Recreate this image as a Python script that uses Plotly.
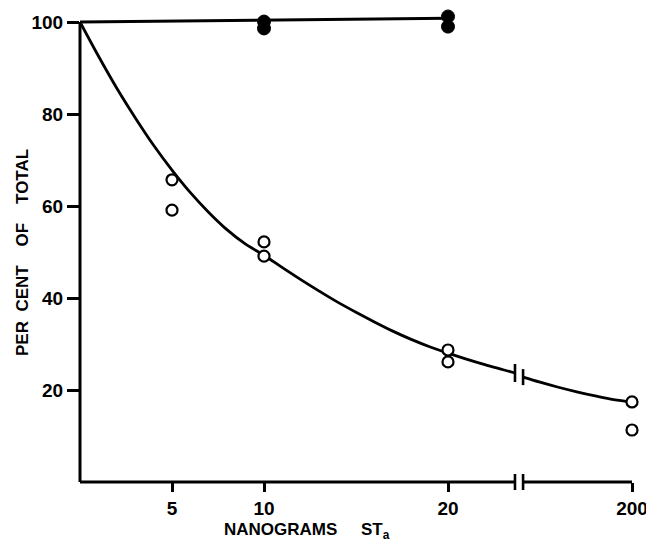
import plotly.graph_objects as go

# ---------------- data ----------------
doses_open = [5, 5, 10, 10, 20, 20, 200, 200]
pct_open = [65.7, 59.1, 52.2, 49.1, 28.7, 26.1, 17.4, 11.3]

doses_filled = [10, 10, 20, 20]
pct_filled = [100.1, 98.6, 101.2, 99.0]

control_line_dose = [0, 20]
control_line_pct = [100.0, 100.8]

# fitted curve, in axis units (200 ng sits at position 30 on the broken axis)
curve_x_pre = [0, 1, 2, 3, 4, 5, 6, 7, 8, 9, 10, 11, 12, 13, 14, 15, 16, 17,
               18, 19, 20, 21, 22, 23, 23.64]
curve_y_pre = [100, 92.6, 85.6, 79.2, 73.2, 67.8, 62.9, 58.6, 54.8, 51.7, 49.3,
               46.6, 44.0, 41.5, 39.1, 36.9, 34.8, 32.8, 31.0, 29.4, 28.0,
               26.7, 25.5, 24.4, 23.7]
curve_x_post = [24.08, 25, 26, 27, 28, 29, 30]
curve_y_post = [22.8, 21.7, 20.6, 19.6, 18.7, 17.9, 17.4]

x_tick_doses = [5, 10, 20, 200]
y_ticks = [20, 40, 60, 80, 100]

# broken-axis geometry
BREAK_LO, BREAK_HI = 23.64, 24.08
POS_200 = 30


def pos(d):
    return d if d <= 20 else POS_200


# page has an 8px body margin: keep the figure inside the 654x546 window
OFF = 8
W, H = 654 - OFF, 546 - OFF
ML, MR, MT, MB = 80 - OFF, 4, 8 - OFF, 64
PX_PER_X = 18.4
PX_PER_Y = 4.6
plot_w = W - ML - MR
plot_h = H - MT - MB

fig = go.Figure()

ink = "black"
font_family = "Liberation Sans, Arial, Helvetica, sans-serif"

# control (filled) line
fig.add_trace(go.Scatter(
    x=control_line_dose, y=control_line_pct, mode="lines",
    line=dict(color=ink, width=3), hoverinfo="skip", showlegend=False))

# decay curve, two segments around the break
fig.add_trace(go.Scatter(
    x=curve_x_pre, y=curve_y_pre, mode="lines", line_shape="spline",
    line=dict(color=ink, width=2.8), hoverinfo="skip", showlegend=False))
fig.add_trace(go.Scatter(
    x=curve_x_post, y=curve_y_post, mode="lines", line_shape="spline",
    line=dict(color=ink, width=2.8), hoverinfo="skip", showlegend=False))

# open circles
fig.add_trace(go.Scatter(
    x=[pos(d) for d in doses_open], y=pct_open, mode="markers",
    marker=dict(symbol="circle", size=11, color="white",
                line=dict(color=ink, width=2.2)),
    cliponaxis=False, showlegend=False))

# filled circles
fig.add_trace(go.Scatter(
    x=[pos(d) for d in doses_filled], y=pct_filled, mode="markers",
    marker=dict(symbol="circle", size=13, color=ink,
                line=dict(color=ink, width=1)),
    cliponaxis=False, showlegend=False))

shapes = []
# y axis line (0..100)
shapes.append(dict(type="line", xref="x domain", yref="y", x0=0, x1=0,
                   y0=0, y1=100, line=dict(color=ink, width=3)))
# x axis line with a break
shapes.append(dict(type="line", xref="x", yref="y domain", x0=0, x1=BREAK_LO,
                   y0=0, y1=0, line=dict(color=ink, width=3)))
shapes.append(dict(type="line", xref="x", yref="y domain", x0=BREAK_HI,
                   x1=POS_200, y0=0, y1=0, line=dict(color=ink, width=3)))
for bx in (BREAK_LO, BREAK_HI):
    shapes.append(dict(type="line", xref="x", yref="y domain",
                       ysizemode="pixel", yanchor=0, y0=-8, y1=8,
                       x0=bx, x1=bx, line=dict(color=ink, width=2.6)))
# break marks on the curve
shapes.append(dict(type="line", xref="x", yref="y", ysizemode="pixel",
                   yanchor=curve_y_pre[-1], y0=-9, y1=9,
                   x0=BREAK_LO, x1=BREAK_LO, line=dict(color=ink, width=2.6)))
shapes.append(dict(type="line", xref="x", yref="y", ysizemode="pixel",
                   yanchor=curve_y_post[0], y0=-8, y1=8,
                   x0=BREAK_HI, x1=BREAK_HI, line=dict(color=ink, width=2.6)))

tickfont = dict(family=font_family, size=19, color=ink, weight="bold")
titlefont = dict(family=font_family, size=17, color=ink, weight="bold")
NB = "\u00a0"

fig.update_layout(
    width=W, height=H,
    margin=dict(l=ML, r=MR, t=MT, b=MB, autoexpand=False),
    paper_bgcolor="white", plot_bgcolor="white",
    showlegend=False,
    shapes=shapes,
    xaxis=dict(range=[0, plot_w / PX_PER_X], showgrid=False, zeroline=False,
               showline=False, ticks="outside", ticklen=9, tickwidth=2.5,
               tickcolor=ink, tickvals=[pos(d) for d in x_tick_doses],
               ticktext=[str(d) for d in x_tick_doses], tickfont=tickfont,
               automargin=False, fixedrange=True),
    yaxis=dict(range=[0, plot_h / PX_PER_Y], showgrid=False, zeroline=False,
               showline=False, ticks="outside", ticklen=12, tickwidth=2.5,
               tickcolor=ink, tickvals=y_ticks,
               ticktext=[str(v) for v in y_ticks], tickfont=tickfont,
               automargin=False, fixedrange=True),
    annotations=[
        dict(text="NANOGRAMS" + NB * 5 + "ST<sub>a</sub>",
             xref="paper", yref="paper",
             x=(222 - 80) / plot_w, y=(482 - 531) / plot_h,
             xanchor="left", yanchor="middle", showarrow=False,
             font=titlefont),
        dict(text="PER" + NB * 2 + "CENT" + NB * 4 + "OF" + NB * 4 + "TOTAL",
             xref="paper", yref="paper",
             x=(22 - 80) / plot_w, y=(482 - 253) / plot_h,
             xanchor="center", yanchor="middle", textangle=-90,
             showarrow=False, font=titlefont),
    ],
)

fig.write_html("out.html")
